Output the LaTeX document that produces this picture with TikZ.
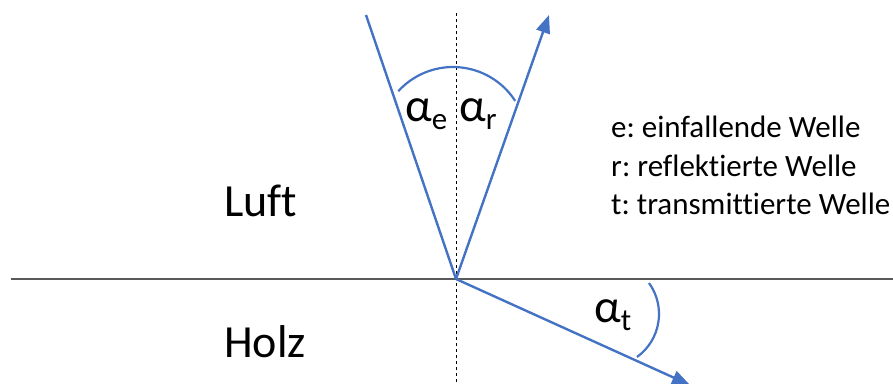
\documentclass[tikz,border=0pt]{standalone}
\usepackage{fontspec}
\setmainfont{Carlito}[Ligatures={NoCommon}]
\frenchspacing
\usetikzlibrary{arrows.meta}
\definecolor{rayblue}{HTML}{4472C4}
\definecolor{linegray}{HTML}{595959}
\tikzset{
  ray/.style={draw=rayblue, line width=2.4pt},
  rayarrow/.style={ray, -{Triangle[length=18pt,width=14pt]}},
  anglearc/.style={draw=rayblue, line width=2.2pt},
  normal/.style={draw=black, line width=1pt, dash pattern=on 3pt off 3pt},
  boundary/.style={draw=linegray, line width=2pt},
  medium/.style={anchor=base west, inner sep=0pt, font=\fontsize{46}{50}\selectfont},
  legend/.style={anchor=base west, inner sep=0pt, font=\fontsize{31}{36}\selectfont},
  anglelabel/.style={anchor=base west, inner sep=0pt, font=\fontsize{47}{50}\selectfont},
}
\newcommand{\subsc}[1]{\raisebox{-8pt}{\fontsize{31}{34}\selectfont #1}}
\begin{document}
\begin{tikzpicture}[x=1pt,y=-1pt]
\useasboundingbox (0,0) rectangle (893,383);
\coordinate (O) at (456,279);
\coordinate (E) at (366,15);
\coordinate (R) at (549,15);
\coordinate (T) at (690,385);
\coordinate (NT) at (456.5,13);
\coordinate (NB) at (456.5,383);
\coordinate (BL) at (11,279);
\coordinate (BR) at (893,279);
% boundary and normal
\draw[boundary] (BL) -- (BR);
\draw[normal] (NT) -- (NB);
% rays
\draw[ray] (E) -- (O);
\draw[rayarrow] (O) -- (R);
\draw[rayarrow] (O) -- (T);
% angle arcs
\draw[anglearc] (453,141) ++(-137.7:74) arc[start angle=-137.7, end angle=-32.8, radius=74];
\draw[anglearc] (606,314) ++(-35.8:53) arc[start angle=-35.8, end angle=54.2, radius=53];
% labels
\node[anglelabel] (ae) at (405,121) {α\subsc{e}};
\node[anglelabel] (ar) at (459,121) {α\subsc{r}};
\node[anglelabel] (at) at (594,322) {α\subsc{t}};
\node[medium] (luft) at (224,216) {Luft};
\node[medium] (holz) at (224,357) {Holz};
\node[legend] (l1) at (611,137) {e: einfallende Welle};
\node[legend] (l2) at (611,176) {r: reflektierte Welle};
\node[legend] (l3) at (611,214) {t: transmittierte Welle};
\end{tikzpicture}
\end{document}
